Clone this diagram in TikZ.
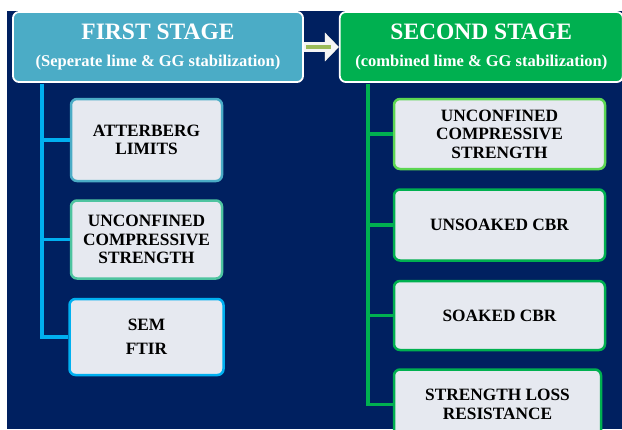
\documentclass[tikz,border=0pt]{standalone}
\usepackage{fontspec}
\setmainfont{Liberation Serif}
\usetikzlibrary{positioning,arrows.meta}
\pgfdeclarelayer{bg}
\pgfsetlayers{bg,main}
\definecolor{navy}{RGB}{0,32,96}
\definecolor{stageblue}{RGB}{75,172,198}
\definecolor{stagegreen}{RGB}{0,176,80}
\definecolor{boxfill}{RGB}{230,233,240}
\definecolor{lineblue}{RGB}{0,176,240}
\definecolor{mint}{RGB}{78,196,160}
\definecolor{lightgreen}{RGB}{92,214,82}
\definecolor{olivegreen}{RGB}{155,187,89}
\tikzset{
	>=Stealth
}

\begin{document}
\begin{tikzpicture}[
x = 1pt, y = -1pt,
node distance = 17pt,
every node/.style = {
	font = \bfseries,
	align=center
},
stage/.style = {
	rectangle,
	rounded corners = 6pt,
	draw = white,
	line width = 1.8pt,
	text = white,
	inner sep = 0pt,
	minimum height = 70pt
},
test/.style = {
	rectangle,
	rounded corners = 6pt,
	fill = boxfill,
	line width = 2.5pt,
	inner sep = 0pt,
	font = \fontsize{17.3}{18.5}\selectfont\bfseries
},
link/.style = {
	line width = 3.6pt
}
]
\useasboundingbox (0,0) rectangle (622,429);

\node (first) [stage, fill=stageblue, minimum width=290pt] at (158,47)
	{\fontsize{23.5}{25}\selectfont FIRST STAGE\\[15pt]\fontsize{16.5}{18}\selectfont (Seperate lime \& GG stabilization)};
\node (second) [stage, fill=stagegreen, minimum width=283pt, right = 35pt of first]
	{\fontsize{23.5}{25}\selectfont SECOND STAGE\\[15pt]\fontsize{16.5}{18}\selectfont (combined lime \& GG stabilization)};

% first stage tests
\node (atterberg) [test, draw=stageblue, minimum width=151pt, minimum height=82pt] at (146.5,140) {ATTERBERG\\LIMITS};
\node (ucsA) [test, draw=mint, minimum width=151pt, minimum height=78pt, below = of atterberg] {UNCONFINED\\COMPRESSIVE\\STRENGTH};
\node (sem) [test, draw=lineblue, minimum width=154pt, minimum height=76pt, below = 18pt of ucsA] {SEM\\[6pt]FTIR};

% second stage tests
\node (ucsB) [test, draw=lightgreen, minimum width=211pt, minimum height=70pt] at (499.5,134) {UNCONFINED\\COMPRESSIVE\\STRENGTH};
\node (unsoaked) [test, draw=stagegreen, minimum width=211pt, minimum height=71pt, below = 18pt of ucsB] {UNSOAKED CBR};
\node (soaked) [test, draw=stagegreen, minimum width=211pt, minimum height=69pt, below = 18pt of unsoaked] {SOAKED CBR};
\node (loss) [test, draw=stagegreen, minimum width=207pt, minimum height=70pt, below = of soaked, xshift=-2pt] {STRENGTH LOSS\\RESISTANCE};

\coordinate (trunkA) at ([xshift=30pt, yshift=-1pt]first.south west);
\coordinate (trunkB) at ([xshift=29pt, yshift=-1pt]second.south west);

\begin{pgfonlayer}{bg}
\fill[white] (0,0) rectangle (622,429);
\fill[navy] (7,11) rectangle (622,429);
\end{pgfonlayer}

\draw[link, lineblue] (trunkA) |- (sem.west);
\draw[link, lineblue] (trunkA |- atterberg.west) -- (atterberg.west);
\draw[link, lineblue] (trunkA |- ucsA.west) -- (ucsA.west);
\draw[link, stagegreen] (trunkB) |- (loss.west);
\draw[link, stagegreen] (trunkB |- ucsB.west) -- (ucsB.west);
\draw[link, stagegreen] (trunkB |- unsoaked.west) -- (unsoaked.west);
\draw[link, stagegreen] (trunkB |- soaked.west) -- (soaked.west);

\draw[line width=10pt, black!60, shift={(1.5,1.5)}, -{Triangle[width=28pt,length=14pt]}] (first.east) -- (second.west);
\draw[line width=10pt, gray!8, -{Triangle[width=28pt,length=14pt]}] (first.east) -- (second.west);
\draw[line width=4pt, olivegreen] ([xshift=2pt]first.east) -- ([xshift=-8pt]second.west);

\end{tikzpicture}
\end{document}
